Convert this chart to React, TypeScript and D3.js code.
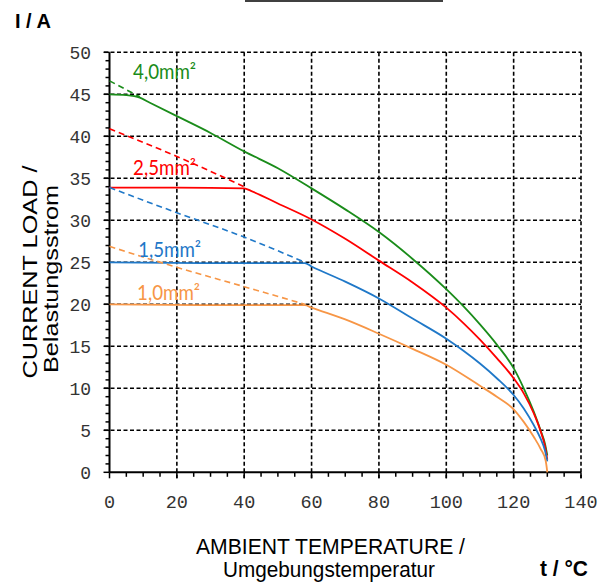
import React from "react";
import * as d3 from "d3";

// Axis ticks
const xTicks = [0, 20, 40, 60, 80, 100, 120, 140];
const yTicks = [0, 5, 10, 15, 20, 25, 30, 35, 40, 45, 50];

// Series (temperature °C, current A)
const solid40: [number, number][] = [
  [0, 45.0], [5, 44.9], [9, 44.6], [12, 44.0], [20, 42.4], [30, 40.4], [40, 38.2], [50, 36.2],
  [60, 33.8], [70, 31.3], [80, 28.6], [90, 25.4], [100, 21.8], [105, 19.8], [110, 17.6],
  [115, 15.2], [120, 12.4], [123, 10.0], [126, 7.2], [128, 5.0], [129.3, 3.4], [130, 2.0],
];
const dash40: [number, number][] = [[0, 46.6], [9, 44.7]];

const solid25: [number, number][] = [
  [0, 33.9], [20, 33.9], [40, 33.8], [42, 33.5], [50, 32.0], [60, 30.1], [70, 27.8], [80, 25.2],
  [90, 22.6], [100, 19.6], [105, 17.8], [110, 15.8], [115, 13.6], [120, 11.2], [123, 9.4],
  [126, 7.0], [128, 4.9], [129.3, 3.1], [130, 1.5],
];
const dash25: [number, number][] = [[0, 40.9], [20, 37.6], [40, 34.0]];

const solid15: [number, number][] = [
  [0, 25.0], [30, 24.9], [58, 24.9], [60, 24.5], [70, 22.7], [80, 20.7], [90, 18.3],
  [100, 15.9], [105, 14.5], [110, 12.95], [115, 11.2], [120, 9.2], [123, 7.6], [126, 5.6],
  [128, 4.0], [129.3, 2.6], [130, 1.3],
];
const dash15: [number, number][] = [[0, 33.9], [20, 30.9], [40, 28.0], [58, 25.0]];

const solid10: [number, number][] = [
  [0, 20.0], [30, 19.9], [58, 19.9], [60, 19.6], [70, 18.2], [80, 16.5], [90, 14.7],
  [100, 12.8], [110, 10.3], [115, 9.0], [120, 7.5], [123, 6.0], [126, 4.2], [128, 2.8],
  [129.5, 1.4], [130, 0],
];
const dash10: [number, number][] = [[0, 26.9], [20, 24.4], [40, 22.1], [58, 20.0]];

const labels = [
  { text: "4,0mm²", t: 7, i: 46.8, color: "#1a8c1a" },
  { text: "2,5mm²", t: 7, i: 35.4, color: "#ff0000" },
  { text: "1,5mm²", t: 8.5, i: 25.6, color: "#1f78c8" },
  { text: "1,0mm²", t: 8.2, i: 20.5, color: "#f79646" },
];

const series = [
  { solid: solid40, dash: dash40, color: "#1a8c1a" },
  { solid: solid25, dash: dash25, color: "#ff0000" },
  { solid: solid15, dash: dash15, color: "#1f78c8" },
  { solid: solid10, dash: dash10, color: "#f79646" },
];

export default function App() {
  const W = 599, H = 587;
  const x = d3.scaleLinear().domain([0, 140]).range([109.5, 581]);
  const y = d3.scaleLinear().domain([0, 50]).range([472.3, 52.3]);
  const line = d3
    .line<[number, number]>()
    .x((d) => x(d[0]))
    .y((d) => y(d[1]))
    .curve(d3.curveMonotoneX);

  const minorY = d3.range(0, 51, 1);
  const minorX = d3.range(0, 141, 5);
  const sans = "'Liberation Sans', Arial, sans-serif";
  const mono = "'Liberation Mono', monospace";

  return (
    <svg
      width={W}
      height={H}
      style={{ position: "absolute", left: 0, top: 0, background: "#fff" }}
    >
      {/* cut-off title underline */}
      <line x1={245} x2={443} y1={1} y2={1} stroke="#000" strokeWidth={1.5} />

      {/* grid */}
      {yTicks.filter((v) => v > 0).map((v) => (
        <line key={"gy" + v} x1={104} x2={x(140)} y1={y(v)} y2={y(v)}
          stroke="#000" strokeWidth={1.6} strokeDasharray="4,2.5" />
      ))}
      {xTicks.filter((v) => v > 0).map((v) => (
        <line key={"gx" + v} x1={x(v)} x2={x(v)} y1={y(50)} y2={y(0) + 6}
          stroke="#000" strokeWidth={1.6} strokeDasharray="4,2.5" />
      ))}

      {/* minor ticks */}
      {minorY.map((v) => (
        <line key={"my" + v} x1={x(0) - (v % 5 === 0 ? 6 : 4)} x2={x(0)} y1={y(v)} y2={y(v)}
          stroke="#000" strokeWidth={1.5} />
      ))}
      {minorX.map((v) => (
        <line key={"mx" + v} x1={x(v)} x2={x(v)} y1={y(0)} y2={y(0) + (v % 20 === 0 ? 6 : 4.5)}
          stroke="#000" strokeWidth={1.5} />
      ))}

      {/* axes */}
      <line x1={x(0)} x2={x(0)} y1={y(50)} y2={y(0)} stroke="#000" strokeWidth={2} />
      <line x1={x(0)} x2={x(140)} y1={y(0)} y2={y(0)} stroke="#000" strokeWidth={2} />

      {/* tick labels */}
      {yTicks.map((v) => (
        <text key={"ty" + v} x={91} y={y(v) + 7} textAnchor="end" fontFamily={mono}
          fontSize={18} fill="#333">{v}</text>
      ))}
      {xTicks.map((v) => (
        <text key={"tx" + v} x={x(v)} y={508} textAnchor="middle" fontFamily={mono}
          fontSize={18.5} fill="#333">{v}</text>
      ))}

      {/* curves */}
      {series.map((s, i) => (
        <g key={"s" + i}>
          <path d={line(s.dash) || ""} fill="none" stroke={s.color} strokeWidth={1.6}
            strokeDasharray="6,4" />
          <path d={line(s.solid) || ""} fill="none" stroke={s.color} strokeWidth={1.8} />
        </g>
      ))}

      {/* inline labels */}
      {labels.map((l) => (
        <text key={l.text} x={x(l.t)} y={y(l.i)} fontFamily="Lato, 'Open Sans', sans-serif"
          fontSize={21} fill={l.color} textLength={63} lengthAdjust="spacingAndGlyphs">{l.text}</text>
      ))}

      {/* axis titles */}
      <text x={15} y={28} fontFamily={sans} fontWeight="bold" fontSize={20} fill="#000">I / A</text>
      <text transform="translate(37,272) rotate(-90)" textAnchor="middle" fontFamily={sans}
        fontSize={21} fill="#000" textLength={213} lengthAdjust="spacingAndGlyphs">CURRENT  LOAD /</text>
      <text transform="translate(57.5,279) rotate(-90)" textAnchor="middle" fontFamily={sans}
        fontSize={20} fill="#000" textLength={188} lengthAdjust="spacingAndGlyphs">Belastungsstrom</text>
      <text x={330.5} y={554} textAnchor="middle" fontFamily={sans} fontSize={22} fill="#000"
        textLength={269} lengthAdjust="spacingAndGlyphs">AMBIENT TEMPERATURE  /</text>
      <text x={329} y={577} textAnchor="middle" fontFamily={sans} fontSize={22} fill="#000"
        textLength={212} lengthAdjust="spacingAndGlyphs">Umgebungstemperatur</text>
      <text x={540} y={576} fontFamily={sans} fontWeight="bold" fontSize={22} fill="#000"
        textLength={48} lengthAdjust="spacingAndGlyphs">t / °C</text>
    </svg>
  );
}
